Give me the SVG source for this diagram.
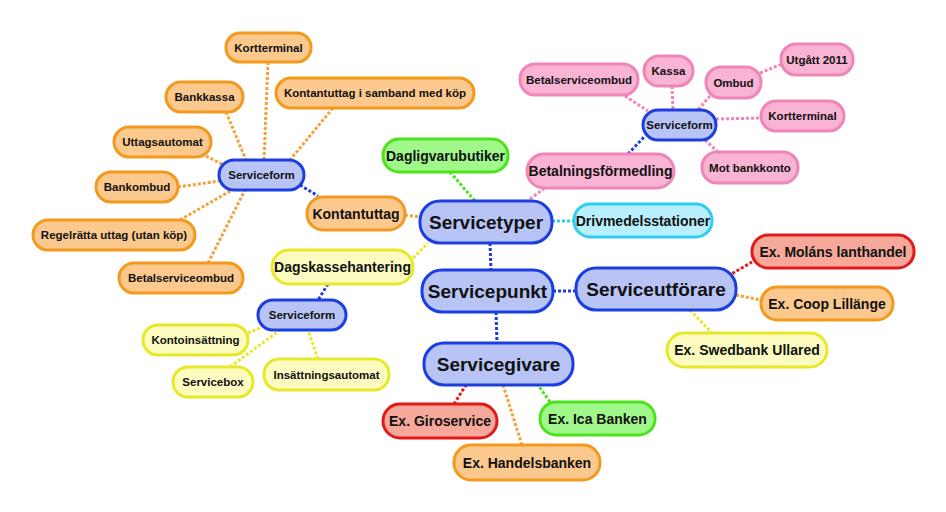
<svg xmlns="http://www.w3.org/2000/svg" width="946" height="512" viewBox="0 0 946 512">
<style>
text{font-family:"Liberation Sans",Arial,sans-serif;font-weight:bold;fill:#111;text-anchor:middle;dominant-baseline:central}
rect{stroke-width:3}
.s{font-size:11.5px}.m{font-size:14px}.l{font-size:19px}
.o{fill:#fbc98e;stroke:#f39a1e}.b{fill:#b8c4f5;stroke:#1c3ee0}.p{fill:#f9b3d3;stroke:#ef86b7}
.g{fill:#a0f88a;stroke:#4ce21c}.c{fill:#b9effc;stroke:#2fcef0}.y{fill:#fcfcc0;stroke:#e8e82a}.r{fill:#f6a89a;stroke:#e01a1a}
line{stroke-width:3;stroke-dasharray:3 2}
.lo{stroke:#f3a23a}.lb{stroke:#1c3ee0}.lp{stroke:#ef86b7}.lg{stroke:#4ce21c}.lc{stroke:#2fcef0}.ly{stroke:#e8e82a}.lr{stroke:#e01a1a}
</style>
<rect width="946" height="512" fill="#fff" style="stroke:none"/>
<g id="connectors">
<line class="lo" x1="268" y1="62" x2="264" y2="160"/>
<line class="lo" x1="226" y1="112" x2="246" y2="160"/>
<line class="lo" x1="333" y1="108" x2="290" y2="160"/>
<line class="lo" x1="206" y1="156" x2="224" y2="165"/>
<line class="lo" x1="178" y1="187" x2="219" y2="181"/>
<line class="lo" x1="180" y1="220" x2="232" y2="190"/>
<line class="lo" x1="208" y1="263" x2="245" y2="190"/>
<line class="lb" x1="300" y1="185" x2="318" y2="196"/>
<line class="lo" x1="405" y1="215" x2="420" y2="217"/>
<line class="lg" x1="450" y1="172" x2="475" y2="201"/>
<line class="lp" x1="530" y1="199" x2="545" y2="188"/>
<line class="lc" x1="552" y1="221" x2="574" y2="221"/>
<line class="lb" x1="628" y1="154" x2="645" y2="136"/>
<line class="lp" x1="625" y1="96" x2="648" y2="111"/>
<line class="lp" x1="672" y1="86" x2="673" y2="110"/>
<line class="lp" x1="710" y1="96" x2="697" y2="111"/>
<line class="lp" x1="760" y1="73" x2="782" y2="64"/>
<line class="lp" x1="716" y1="119" x2="761" y2="118"/>
<line class="lp" x1="705" y1="140" x2="718" y2="152"/>
<line class="ly" x1="413" y1="258" x2="428" y2="243"/>
<line class="lb" x1="490" y1="243" x2="491" y2="270"/>
<line class="lb" x1="553" y1="291" x2="576" y2="291"/>
<line class="lr" x1="728" y1="276" x2="752" y2="262"/>
<line class="lo" x1="736" y1="295" x2="761" y2="300"/>
<line class="ly" x1="690" y1="310" x2="712" y2="333"/>
<line class="lb" x1="496" y1="312" x2="497" y2="343"/>
<line class="lb" x1="328" y1="284" x2="318" y2="300"/>
<line class="ly" x1="248" y1="333" x2="262" y2="327"/>
<line class="ly" x1="230" y1="367" x2="280" y2="330"/>
<line class="ly" x1="318" y1="359" x2="308" y2="330"/>
<line class="lr" x1="454" y1="404" x2="466" y2="385"/>
<line class="lg" x1="550" y1="402" x2="538" y2="385"/>
<line class="lo" x1="522" y1="445" x2="503" y2="385"/>
</g>
<g id="n1"><rect class="o" x="226" y="33" width="85" height="29" rx="14"/><text class="s" x="268.5" y="47.5">Kortterminal</text></g>
<g id="n2"><rect class="o" x="166" y="82" width="77" height="30" rx="15"/><text class="s" x="204.5" y="97">Bankkassa</text></g>
<g id="n3"><rect class="o" x="276" y="78" width="198" height="30" rx="15"/><text class="s" x="375" y="93">Kontantuttag i samband med köp</text></g>
<g id="n4"><rect class="o" x="114" y="127" width="97" height="30" rx="15"/><text class="s" x="162.5" y="142">Uttagsautomat</text></g>
<g id="n5"><rect class="b" x="219" y="160" width="85" height="30" rx="15"/><text class="s" x="261.5" y="175">Serviceform</text></g>
<g id="n6"><rect class="o" x="96" y="172" width="82" height="30" rx="15"/><text class="s" x="137" y="187">Bankombud</text></g>
<g id="n7"><rect class="o" x="33" y="220" width="162" height="30" rx="15"/><text class="s" x="114" y="235">Regelrätta uttag (utan köp)</text></g>
<g id="n8"><rect class="o" x="307" y="197" width="98" height="33" rx="16"/><text class="m" x="356" y="213.5">Kontantuttag</text></g>
<g id="n9"><rect class="o" x="119" y="263" width="124" height="30" rx="15"/><text class="s" x="181" y="278">Betalserviceombud</text></g>
<g id="n10"><rect class="g" x="383" y="139" width="125" height="33" rx="16"/><text class="m" x="445.5" y="155.5">Dagligvarubutiker</text></g>
<g id="n11"><rect class="b" x="420" y="201" width="132" height="42" rx="20"/><text class="l" x="486" y="222">Servicetyper</text></g>
<g id="n12"><rect class="c" x="574" y="204" width="138" height="33" rx="16"/><text class="m" x="643" y="220.5">Drivmedelsstationer</text></g>
<g id="n13"><rect class="p" x="527" y="154" width="147" height="34" rx="17"/><text class="m" x="600.5" y="171">Betalningsförmedling</text></g>
<g id="n14"><rect class="b" x="643" y="110" width="73" height="30" rx="15"/><text class="s" x="679.5" y="125">Serviceform</text></g>
<g id="n15"><rect class="p" x="520" y="64" width="118" height="31" rx="15"/><text class="s" x="579" y="79.5">Betalserviceombud</text></g>
<g id="n16"><rect class="p" x="644" y="56" width="49" height="30" rx="15"/><text class="s" x="668.5" y="71">Kassa</text></g>
<g id="n17"><rect class="p" x="706" y="67" width="55" height="31" rx="15"/><text class="s" x="733.5" y="82.5">Ombud</text></g>
<g id="n18"><rect class="p" x="781" y="44" width="72" height="31" rx="15"/><text class="s" x="817" y="59.5">Utgått 2011</text></g>
<g id="n19"><rect class="p" x="761" y="101" width="83" height="30" rx="15"/><text class="s" x="802.5" y="116">Kortterminal</text></g>
<g id="n20"><rect class="p" x="702" y="152" width="96" height="31" rx="15"/><text class="s" x="750" y="167.5">Mot bankkonto</text></g>
<g id="n21"><rect class="y" x="272" y="250" width="141" height="34" rx="17"/><text class="m" x="342.5" y="267">Dagskassehantering</text></g>
<g id="n22"><rect class="b" x="422" y="270" width="131" height="42" rx="20"/><text class="l" x="487.5" y="291">Servicepunkt</text></g>
<g id="n23"><rect class="b" x="576" y="268" width="160" height="42" rx="20"/><text class="l" x="656" y="289">Serviceutförare</text></g>
<g id="n24"><rect class="r" x="752" y="235" width="162" height="33" rx="16"/><text class="m" x="833" y="251.5">Ex. Moláns lanthandel</text></g>
<g id="n25"><rect class="o" x="761" y="287" width="132" height="33" rx="16"/><text class="m" x="827" y="303.5">Ex. Coop Lillänge</text></g>
<g id="n26"><rect class="y" x="667" y="333" width="160" height="34" rx="17"/><text class="m" x="747" y="350">Ex. Swedbank Ullared</text></g>
<g id="n27"><rect class="b" x="258" y="300" width="88" height="30" rx="15"/><text class="s" x="302" y="315">Serviceform</text></g>
<g id="n28"><rect class="y" x="143" y="325" width="105" height="30" rx="15"/><text class="s" x="195.5" y="340">Kontoinsättning</text></g>
<g id="n29"><rect class="y" x="173" y="367" width="80" height="30" rx="15"/><text class="s" x="213" y="382">Servicebox</text></g>
<g id="n30"><rect class="y" x="264" y="359" width="125" height="31" rx="15"/><text class="s" x="326.5" y="374.5">Insättningsautomat</text></g>
<g id="n31"><rect class="b" x="424" y="343" width="149" height="42" rx="20"/><text class="l" x="498.5" y="364">Servicegivare</text></g>
<g id="n32"><rect class="r" x="383" y="404" width="114" height="34" rx="17"/><text class="m" x="440" y="421">Ex. Giroservice</text></g>
<g id="n33"><rect class="g" x="540" y="402" width="115" height="33" rx="16"/><text class="m" x="597.5" y="418.5">Ex. Ica Banken</text></g>
<g id="n34"><rect class="o" x="454" y="445" width="146" height="35" rx="17"/><text class="m" x="527" y="462.5">Ex. Handelsbanken</text></g>
</svg>
